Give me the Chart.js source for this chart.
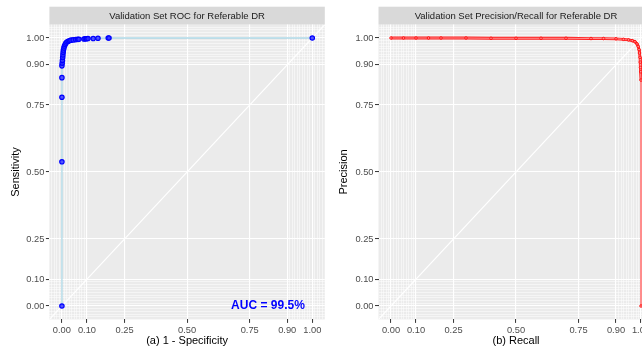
<!DOCTYPE html>
<html>
<head>
<meta charset="utf-8" />
<title>Validation Set ROC and Precision/Recall</title>
<script src="https://cdn.jsdelivr.net/npm/chart.js@4.4.1/dist/chart.umd.min.js"></script>
<style>
  html, body { margin: 0; padding: 0; background: #fff; overflow: hidden; width: 642px; height: 350px; }
  canvas { position: absolute; top: 0; }
  #roc { left: 0; }
  #pr { left: 328px; }
</style>
</head>
<body>
<canvas id="roc" width="330" height="350"></canvas>
<canvas id="pr" width="342" height="350"></canvas>
<script>
// axis breaks (same on both axes of both panels)
const majorBreaks = [0, 0.1, 0.25, 0.5, 0.75, 0.9, 1];
const minorBreaks = [-0.04, -0.03, -0.02, -0.01, 0.01, 0.02, 0.03, 0.04, 0.05, 0.06, 0.07, 0.08, 0.09,
                     0.91, 0.92, 0.93, 0.94, 0.95, 0.96, 0.97, 0.98, 0.99, 1.01, 1.02, 1.03, 1.04];

// ROC curve: 1 - specificity vs sensitivity
const rocFpr = [0, 0, 0, 0, 0, 0.001, 0.002, 0.003, 0.004, 0.005, 0.006, 0.008, 0.010, 0.013, 0.016, 0.020,
                0.025, 0.030, 0.036, 0.045, 0.055, 0.063, 0.068, 0.088, 0.093, 0.098, 0.104, 0.125, 0.144, 0.185, 0.188, 1.0];
const rocTpr = [0, 0.538, 0.779, 0.852, 0.896, 0.906, 0.916, 0.927, 0.937, 0.947, 0.955, 0.963, 0.970, 0.976, 0.981, 0.985,
                0.988, 0.990, 0.992, 0.993, 0.994, 0.995, 0.995, 0.996, 0.997, 0.997, 0.998, 0.998, 0.999, 1.0, 1.0, 1.0];

// precision / recall curve
const prRecall = [0, 0.05, 0.1, 0.15, 0.2, 0.3, 0.4, 0.5, 0.6, 0.7, 0.8, 0.85, 0.9, 0.93, 0.95, 0.965, 0.976,
                  0.984, 0.989, 0.992, 0.994, 0.996, 0.997, 0.998, 0.999, 1.0, 1.0];
const prPrecision = [1, 1, 1, 1, 1, 1, 0.999, 0.999, 0.999, 0.999, 0.998, 0.998, 0.997, 0.995, 0.993, 0.990, 0.986,
                     0.978, 0.968, 0.957, 0.944, 0.928, 0.910, 0.890, 0.874, 0.843, 0];

const diagonal = [-0.05, 1.05];
const aucText = 'AUC = 99.5%';

const FONT = '"Liberation Sans", Arial, sans-serif';

function isMajor(v) {
  return majorBreaks.some(m => Math.abs(m - v) < 1e-9);
}

function axis(pos, titleText, size, titlePad) {
  return {
    type: 'linear',
    position: pos,
    min: -0.05,
    max: 1.05,
    afterBuildTicks: s => {
      s.ticks = majorBreaks.concat(minorBreaks).sort((a, b) => a - b).map(v => ({ value: v }));
    },
    afterFit: s => {
      if (pos === 'left') s.width = size; else s.height = size;
    },
    border: { display: false },
    grid: {
      drawTicks: true,
      tickLength: 3.5,
      color: '#FFFFFF',
      lineWidth: c => (c.tick && isMajor(c.tick.value)) ? 1.1 : 0.5,
      tickColor: c => (c.tick && isMajor(c.tick.value)) ? '#333333' : 'rgba(0,0,0,0)',
      tickWidth: 1
    },
    ticks: {
      autoSkip: false,
      maxRotation: 0,
      padding: 1.5,
      color: '#4D4D4D',
      font: { family: FONT, size: 9.3 },
      callback: v => isMajor(v) ? v.toFixed(2) : ''
    },
    title: {
      display: true,
      text: titleText,
      color: '#000000',
      font: { family: FONT, size: 11 },
      padding: titlePad
    }
  };
}

const panelDecor = {
  id: 'panelDecor',
  beforeDraw(chart, args, opts) {
    const { ctx, chartArea: a } = chart;
    ctx.save();
    ctx.fillStyle = '#EBEBEB';
    ctx.fillRect(a.left, a.top, a.right - a.left, a.bottom - a.top);
    ctx.fillStyle = '#D9D9D9';
    ctx.fillRect(a.left, 6.7, a.right - a.left, a.top - 6.7);
    ctx.fillStyle = '#1A1A1A';
    ctx.font = '9.5px ' + FONT;
    ctx.textAlign = 'center';
    ctx.textBaseline = 'middle';
    ctx.fillText(opts.strip, (a.left + a.right) / 2, (6.7 + a.top) / 2 + 0.5);
    ctx.restore();
  },
  afterDatasetsDraw(chart, args, opts) {
    if (!opts.note) return;
    const { ctx, scales } = chart;
    ctx.save();
    ctx.fillStyle = '#0000FF';
    ctx.font = 'bold 12px ' + FONT;
    ctx.textAlign = 'center';
    ctx.textBaseline = 'middle';
    ctx.fillText(opts.note.text, scales.x.getPixelForValue(opts.note.x), scales.y.getPixelForValue(opts.note.y));
    ctx.restore();
  }
};

function baseOptions(yTitle, xTitle, yWidth, padRight, strip, note) {
  return {
    responsive: false,
    animation: false,
    layout: { padding: { top: 24.6, right: padRight, left: 0, bottom: 0 } },
    plugins: {
      legend: { display: false },
      tooltip: { enabled: false },
      panelDecor: { strip: strip, note: note }
    },
    scales: {
      x: axis('bottom', xTitle, 30.6, { top: 0, bottom: 2 }),
      y: axis('left', yTitle, yWidth, { top: 9, bottom: 0 })
    }
  };
}

const rocPts = rocFpr.map((x, i) => ({ x: x, y: rocTpr[i] }));
const diagPts = diagonal.map(v => ({ x: v, y: v }));

new Chart(document.getElementById('roc'), {
  type: 'line',
  data: {
    datasets: [
      { data: diagPts, borderColor: '#FFFFFF', borderWidth: 1.2, pointRadius: 0, order: 3, clip: 0 },
      { data: rocPts, borderColor: '#ADD8E6', borderWidth: 1.3, pointRadius: 0, order: 2 },
      { data: rocPts, showLine: false, pointRadius: 2.2, pointBorderWidth: 1.2,
        pointBorderColor: '#0000FF', pointBackgroundColor: 'rgba(50,50,255,0.8)', order: 1 }
    ]
  },
  options: baseOptions('Sensitivity', '(a) 1 - Specificity', 49.4, 3.4,
    'Validation Set ROC for Referable DR', { text: aucText, x: 0.823, y: 0 }),
  plugins: [panelDecor]
});

const prPts = prRecall.map((x, i) => ({ x: x, y: prPrecision[i] }));

new Chart(document.getElementById('pr'), {
  type: 'line',
  data: {
    datasets: [
      { data: diagPts, borderColor: '#FFFFFF', borderWidth: 1.2, pointRadius: 0, order: 4, clip: 0 },
      { data: prPts, borderColor: '#FF2020', borderWidth: 2.8, pointRadius: 0, order: 3,
        segment: { borderWidth: c => (c.p1.parsed.y < 0.5 ? 0.8 : undefined) } },
      { data: prPts, borderColor: '#FF9A9A', borderWidth: 0.9, pointRadius: 0, order: 2,
        segment: { borderWidth: c => (c.p1.parsed.y < 0.5 ? 0 : undefined) } },
      { data: prPts, showLine: false, pointRadius: 1.3, pointBorderWidth: 0.8,
        pointBorderColor: '#FF0000', pointBackgroundColor: 'rgba(255,150,150,0.8)', order: 1 }
    ]
  },
  options: baseOptions('Precision', '(b) Recall', 50.5, 16.5,
    'Validation Set Precision/Recall for Referable DR', null),
  plugins: [panelDecor]
});
</script>
</body>
</html>
